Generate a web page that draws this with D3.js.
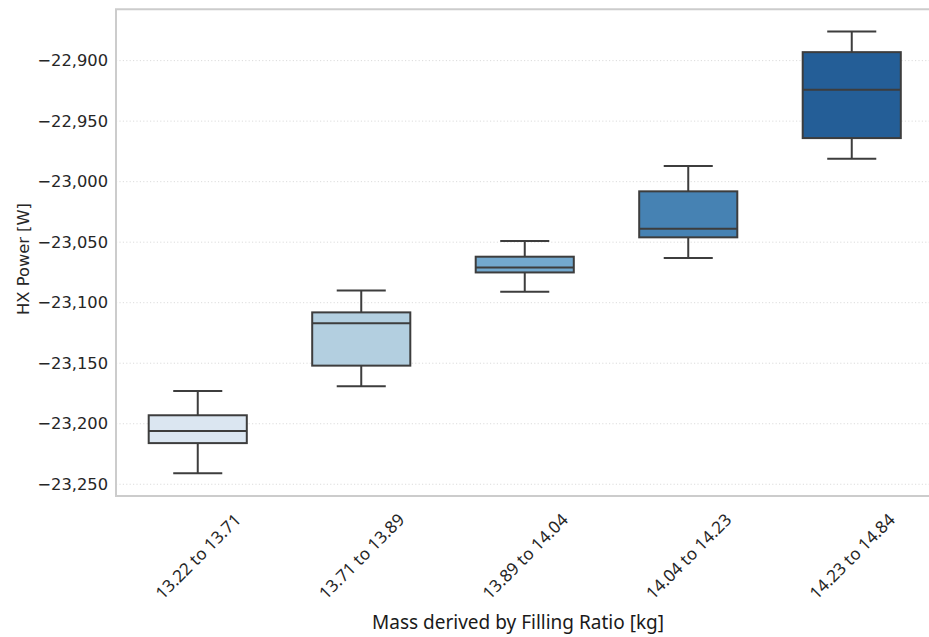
<!DOCTYPE html>
<html>
<head>
<meta charset="utf-8">
<script src="https://cdn.jsdelivr.net/npm/d3@7"></script>
<style>
  html, body { margin: 0; padding: 0; background: #ffffff; overflow: hidden; }
  svg { display: block; }
</style>
</head>
<body>
<svg id="chart" width="929" height="637"></svg>
<script>
// Mass bins (derived from filling ratio) and HX power box statistics [W]
const categories = ["13.22 to 13.71", "13.71 to 13.89", "13.89 to 14.04", "14.04 to 14.23", "14.23 to 14.84"];
const whiskerLow  = [-23241, -23169, -23091, -23063, -22981];
const q1          = [-23216, -23152, -23075, -23046, -22964];
const median      = [-23206, -23117, -23071, -23039, -22924];
const q3          = [-23193, -23108, -23062, -23008, -22893];
const whiskerHigh = [-23173, -23090, -23049, -22987, -22876];
const boxColors   = ["#dbe6f1", "#b3cfe0", "#73a9cf", "#4682b3", "#245e97"];
const yTicks      = [-22900, -22950, -23000, -23050, -23100, -23150, -23200, -23250];

const svg = d3.select("#chart");
const plot = { left: 116, top: 9.3, right: 933.5, bottom: 496 };

const x = d3.scaleBand().domain(categories).range([plot.left, plot.right]).padding(0);
const y = d3.scaleLinear().domain([-23259.7, -22857.6]).range([plot.bottom, plot.top]);

const fmt = v => d3.format(",")(v).replace("-", "\u2212");

// horizontal dotted grid
svg.append("g").selectAll("line").data(yTicks).join("line")
  .attr("x1", plot.left).attr("x2", plot.right)
  .attr("y1", d => y(d)).attr("y2", d => y(d))
  .attr("stroke", "#dcdcdc").attr("stroke-width", 1)
  .attr("stroke-dasharray", "1.2,2.2");

// boxes
const boxW = x.bandwidth() * 0.6;
const capW = boxW * 0.5;
const rows = categories.map((c, i) => ({
  c, lo: whiskerLow[i], q1: q1[i], med: median[i], q3: q3[i], hi: whiskerHigh[i], color: boxColors[i]
}));
const edge = "#3d3d3d";
const g = svg.append("g").selectAll("g").data(rows).join("g")
  .attr("transform", d => `translate(${x(d.c) + x.bandwidth() / 2},0)`);

g.append("line").attr("x1", 0).attr("x2", 0)
  .attr("y1", d => y(d.hi)).attr("y2", d => y(d.q3))
  .attr("stroke", edge).attr("stroke-width", 2);
g.append("line").attr("x1", 0).attr("x2", 0)
  .attr("y1", d => y(d.q1)).attr("y2", d => y(d.lo))
  .attr("stroke", edge).attr("stroke-width", 2);
g.append("line").attr("x1", -capW / 2).attr("x2", capW / 2)
  .attr("y1", d => y(d.hi)).attr("y2", d => y(d.hi))
  .attr("stroke", edge).attr("stroke-width", 2);
g.append("line").attr("x1", -capW / 2).attr("x2", capW / 2)
  .attr("y1", d => y(d.lo)).attr("y2", d => y(d.lo))
  .attr("stroke", edge).attr("stroke-width", 2);
g.append("rect")
  .attr("x", -boxW / 2).attr("width", boxW)
  .attr("y", d => y(d.q3)).attr("height", d => y(d.q1) - y(d.q3))
  .attr("fill", d => d.color).attr("stroke", edge).attr("stroke-width", 2);
g.append("line").attr("x1", -boxW / 2).attr("x2", boxW / 2)
  .attr("y1", d => y(d.med)).attr("y2", d => y(d.med))
  .attr("stroke", edge).attr("stroke-width", 2);

// spines: left, top and bottom (right one falls past the page edge)
const spines = [
  [plot.left, plot.top, plot.left, plot.bottom],
  [plot.left - 1, plot.top, plot.right, plot.top],
  [plot.left - 1, plot.bottom, plot.right, plot.bottom]
];
svg.append("g").selectAll("line").data(spines).join("line")
  .attr("x1", d => d[0]).attr("y1", d => d[1])
  .attr("x2", d => d[2]).attr("y2", d => d[3])
  .attr("stroke", "#cccccc").attr("stroke-width", 2);

// y axis
const yAxis = svg.append("g")
  .attr("transform", `translate(${plot.left},0)`)
  .call(d3.axisLeft(y).tickValues(yTicks).tickFormat(fmt).tickSize(0).tickPadding(8));
yAxis.select(".domain").remove();
yAxis.selectAll("text")
  .attr("font-family", "DejaVu Sans").attr("font-size", 16.3).attr("fill", "#262626");

// x axis with rotated labels centered under each box
const xAxis = svg.append("g")
  .attr("transform", `translate(0,${plot.bottom})`)
  .call(d3.axisBottom(x).tickSize(0).tickPadding(0));
xAxis.select(".domain").remove();
xAxis.selectAll("text")
  .attr("font-family", "Noto Sans").attr("font-size", 17).attr("fill", "#262626")
  .attr("text-anchor", "middle").attr("dy", null)
  .attr("y", 0)
  .attr("transform", "translate(0,60) rotate(-45)")
  .attr("dominant-baseline", "central");

// axis titles
svg.append("text")
  .attr("x", 518).attr("y", 629)
  .attr("text-anchor", "middle")
  .attr("font-family", "Noto Sans").attr("font-size", 19).attr("fill", "#1a1a1a")
  .text("Mass derived by Filling Ratio [kg]");

svg.append("text")
  .attr("transform", `translate(29,259) rotate(-90)`)
  .attr("text-anchor", "middle")
  .attr("font-family", "DejaVu Sans").attr("font-size", 16.3).attr("fill", "#262626")
  .text("HX Power [W]");
</script>
</body>
</html>
